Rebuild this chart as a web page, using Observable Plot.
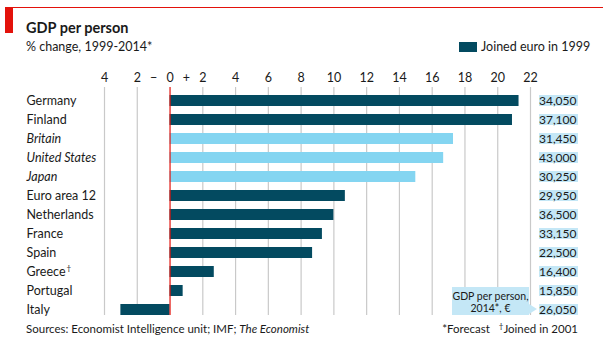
<!DOCTYPE html>
<html><head><meta charset="utf-8">
<script src="https://cdn.jsdelivr.net/npm/d3@7"></script>
<script src="https://cdn.jsdelivr.net/npm/@observablehq/plot@0.6"></script>
<style>
body{margin:0;background:#fff;font-family:Lato,"Open Sans",sans-serif;}
#wrap{position:relative;width:603px;height:340px;overflow:hidden;background:#fff;}
#wrap svg{position:absolute;left:0;top:0;}
.abs{position:absolute;white-space:nowrap;color:#1a1a1a;line-height:1;}
#topline{position:absolute;left:5px;top:7px;width:598px;height:1px;background:#e3120b;}
#redblock{position:absolute;left:5px;top:7px;width:8px;height:26px;background:#e3120b;}
#title{left:26px;top:21px;font-size:14.5px;font-weight:bold;}
#sub{left:26px;top:41px;font-size:12.5px;}
#leg{left:459px;top:41px;font-size:12.5px;}
#leg span.sw{display:inline-block;width:18px;height:10px;background:#034a60;vertical-align:-1px;margin-right:4px;}
#src{left:26px;top:323px;font-size:11.5px;}
#note{right:25px;top:323px;font-size:11.5px;}
#note .dg{font-size:8px;position:relative;top:-4px;}
#callout{position:absolute;left:452px;top:287px;width:77px;height:28px;background:#c4e7f6;font-size:10.5px;line-height:12px;text-align:center;color:#1a1a1a;padding-top:3px;box-sizing:border-box;white-space:nowrap;}
#callout:after{content:"";position:absolute;right:-8px;top:17px;border-left:8px solid #c4e7f6;border-top:5px solid transparent;border-bottom:5px solid transparent;}
</style></head>
<body><div id="wrap">
<div id="topline"></div><div id="redblock"></div>
<div class="abs" id="title">GDP per person</div>
<div class="abs" id="sub">% change, 1999-2014*</div>
<div class="abs" id="leg"><span class="sw"></span>Joined euro in 1999</div>
<div class="abs" id="src">Sources: Economist Intelligence unit; IMF; <i>The Economist</i></div>
<div class="abs" id="note">*Forecast&nbsp;&nbsp;&nbsp;<span class="dg">†</span>Joined in 2001</div>
<div id="callout">GDP per person,<br>2014*, €</div>
</div>
<script>
const countries = ["Germany","Finland","Britain","United States","Japan","Euro area 12","Netherlands","France","Spain","Greece","Portugal","Italy"];
const changes = [21.3, 20.9, 17.3, 16.7, 15.0, 10.7, 10.0, 9.3, 8.7, 2.7, 0.8, -3.0];
const euro1999 = [true, true, false, false, false, true, true, true, true, true, true, true];
const gdp2014 = ["34,050","37,100","31,450","43,000","30,250","29,950","36,500","33,150","22,500","16,400","15,850","26,050"];
const italicRows = ["Britain","United States","Japan"];
const daggerRows = ["Greece"];
const gridTicks = [-4,-2,0,2,4,6,8,10,12,14,16,18,20,22];
const tickValues = [-4,-2,-1,0,1,2,4,6,8,10,12,14,16,18,20,22];
const tickLabels = ["4","2","−","0","+","2","4","6","8","10","12","14","16","18","20","22"];

const data = countries.map((c,i)=>({country:c, change:changes[i], euro:euro1999[i], gdp:gdp2014[i], italic: italicRows.includes(c)}));
const tickMap = new Map(tickValues.map((v,i)=>[v,tickLabels[i]]));
const DARK = "#034a60", LIGHT = "#84d5f1", BOX = "#c4e7f6";

const chart = Plot.plot({
  width: 603, height: 340,
  marginTop: 87, marginBottom: 25, marginLeft: 104, marginRight: 73,
  style: {fontFamily: "Lato, 'Open Sans', sans-serif", fontSize: "12.5px", background: "transparent", color: "#1a1a1a"},
  x: {domain: [-4, 22], axis: null, label: null},
  y: {domain: countries, paddingInner: 0.425, paddingOuter: 0.17, align: 1, axis: null, label: null},
  marks: [
    Plot.ruleX(gridTicks.filter(d => d !== 0), {stroke: "#c9c9c9", strokeWidth: 1.2}),
    Plot.axisX({anchor: "top", ticks: tickValues, tickSize: 0, tickPadding: 6, tickFormat: d => tickMap.get(d), fontSize: 12.5, label: null}),
    Plot.barX(data, {y: "country", x1: 0, x2: "change", fill: d => d.euro ? DARK : LIGHT}),
    Plot.ruleX([0], {stroke: "#e3120b", strokeWidth: 1.2}),
    Plot.barX(data, {y: "country", x1: 22.55, x2: 24.93, fill: BOX}),
    Plot.text(data, {y: "country", text: "gdp", frameAnchor: "right", dx: 46, textAnchor: "end", fill: "#1a1a1a", fontSize: 12}),
    Plot.text(data.filter(d => !d.italic), {y: "country", text: "country", frameAnchor: "left", dx: -78, textAnchor: "start", fill: "#1a1a1a", fontSize: 12.5}),
    Plot.text(data.filter(d => d.italic), {y: "country", text: "country", frameAnchor: "left", dx: -78, textAnchor: "start", fill: "#1a1a1a", fontSize: 12.5, fontStyle: "italic"}),
    Plot.text(data.filter(d => daggerRows.includes(d.country)), {y: "country", text: () => "†", frameAnchor: "left", dx: -38, dy: -4, textAnchor: "start", fill: "#1a1a1a", fontSize: 8})
  ]
});
document.getElementById("wrap").insertBefore(chart, document.getElementById("topline"));
</script>
</body></html>
